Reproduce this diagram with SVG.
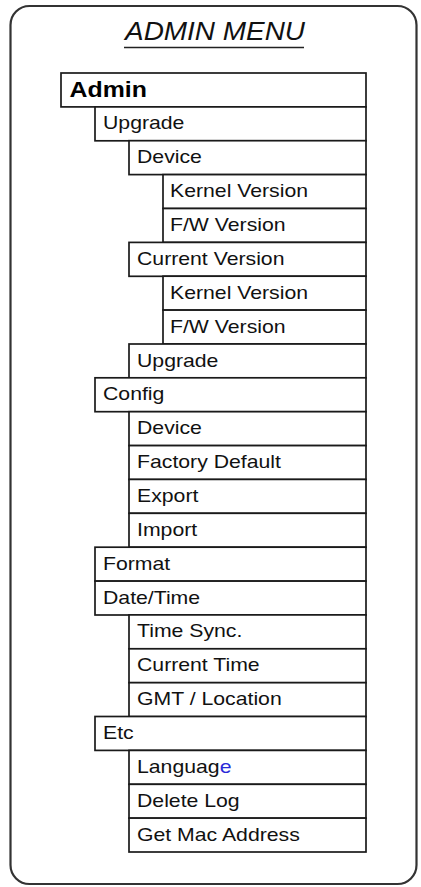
<svg xmlns="http://www.w3.org/2000/svg" width="421" height="887" viewBox="0 0 421 887">
<style>
.frame{fill:#fff;stroke:#333;stroke-width:2.2}
.box{fill:#fff;stroke:#1a1a1a;stroke-width:1.7}
.lbl{font-family:"Liberation Sans",Arial,sans-serif;font-size:18px;fill:#111}
.root{font-family:"Liberation Sans",Arial,sans-serif;font-size:22px;font-weight:bold;fill:#000}
.title{font-family:"Liberation Sans",Arial,sans-serif;font-size:25px;font-style:italic;fill:#111}
</style>
<rect width="421" height="887" fill="#fff"/>
<rect class="frame" x="10.5" y="6" width="406" height="878" rx="19" ry="19"/>
<g id="title">
<text class="title" x="125" y="40" textLength="180" lengthAdjust="spacingAndGlyphs">ADMIN MENU</text>
<line x1="124" y1="47.5" x2="304" y2="47.5" stroke="#222" stroke-width="1.5"/>
</g>
<g id="connectors"></g>
<g id="n-admin"><rect class="box" x="61" y="73" width="305" height="33.9"/><text class="root" transform="translate(69.5 97) scale(1.13 1)">Admin</text></g>
<g id="n-upgrade"><rect class="box" x="95" y="106.9" width="271" height="33.9"/><text class="lbl" transform="translate(103 129.4) scale(1.18 1)">Upgrade</text></g>
<g id="n-upgrade-device"><rect class="box" x="129" y="140.7" width="237" height="33.9"/><text class="lbl" transform="translate(137 163.2) scale(1.18 1)">Device</text></g>
<g id="n-device-kernel"><rect class="box" x="163" y="174.6" width="203" height="33.9"/><text class="lbl" transform="translate(170 197.1) scale(1.18 1)">Kernel Version</text></g>
<g id="n-device-fw"><rect class="box" x="163" y="208.5" width="203" height="33.9"/><text class="lbl" transform="translate(170 231) scale(1.18 1)">F/W Version</text></g>
<g id="n-current-version"><rect class="box" x="129" y="242.4" width="237" height="33.9"/><text class="lbl" transform="translate(137 264.9) scale(1.18 1)">Current Version</text></g>
<g id="n-current-kernel"><rect class="box" x="163" y="276.2" width="203" height="33.9"/><text class="lbl" transform="translate(170 298.7) scale(1.18 1)">Kernel Version</text></g>
<g id="n-current-fw"><rect class="box" x="163" y="310.1" width="203" height="33.9"/><text class="lbl" transform="translate(170 332.6) scale(1.18 1)">F/W Version</text></g>
<g id="n-upgrade-upgrade"><rect class="box" x="129" y="344" width="237" height="33.9"/><text class="lbl" transform="translate(137 366.5) scale(1.18 1)">Upgrade</text></g>
<g id="n-config"><rect class="box" x="95" y="377.8" width="271" height="33.9"/><text class="lbl" transform="translate(103 400.3) scale(1.18 1)">Config</text></g>
<g id="n-config-device"><rect class="box" x="129" y="411.7" width="237" height="33.9"/><text class="lbl" transform="translate(137 434.2) scale(1.18 1)">Device</text></g>
<g id="n-factory-default"><rect class="box" x="129" y="445.6" width="237" height="33.9"/><text class="lbl" transform="translate(137 468.1) scale(1.18 1)">Factory Default</text></g>
<g id="n-export"><rect class="box" x="129" y="479.4" width="237" height="33.9"/><text class="lbl" transform="translate(137 501.9) scale(1.18 1)">Export</text></g>
<g id="n-import"><rect class="box" x="129" y="513.3" width="237" height="33.9"/><text class="lbl" transform="translate(137 535.8) scale(1.18 1)">Import</text></g>
<g id="n-format"><rect class="box" x="95" y="547.2" width="271" height="33.9"/><text class="lbl" transform="translate(103 569.7) scale(1.18 1)">Format</text></g>
<g id="n-datetime"><rect class="box" x="95" y="581.1" width="271" height="33.9"/><text class="lbl" transform="translate(103 603.6) scale(1.18 1)">Date/Time</text></g>
<g id="n-time-sync"><rect class="box" x="129" y="614.9" width="237" height="33.9"/><text class="lbl" transform="translate(137 637.4) scale(1.18 1)">Time Sync.</text></g>
<g id="n-current-time"><rect class="box" x="129" y="648.8" width="237" height="33.9"/><text class="lbl" transform="translate(137 671.3) scale(1.18 1)">Current Time</text></g>
<g id="n-gmt-location"><rect class="box" x="129" y="682.7" width="237" height="33.9"/><text class="lbl" transform="translate(137 705.2) scale(1.18 1)">GMT / Location</text></g>
<g id="n-etc"><rect class="box" x="95" y="716.5" width="271" height="33.9"/><text class="lbl" transform="translate(103 739) scale(1.18 1)">Etc</text></g>
<g id="n-language"><rect class="box" x="129" y="750.4" width="237" height="33.9"/><text class="lbl" transform="translate(137 772.9) scale(1.18 1)">Languag<tspan fill="#2a2ad8">e</tspan></text></g>
<g id="n-delete-log"><rect class="box" x="129" y="784.3" width="237" height="33.9"/><text class="lbl" transform="translate(137 806.8) scale(1.18 1)">Delete Log</text></g>
<g id="n-get-mac"><rect class="box" x="129" y="818.1" width="237" height="33.9"/><text class="lbl" transform="translate(137 840.6) scale(1.18 1)">Get Mac Address</text></g>
</svg>
